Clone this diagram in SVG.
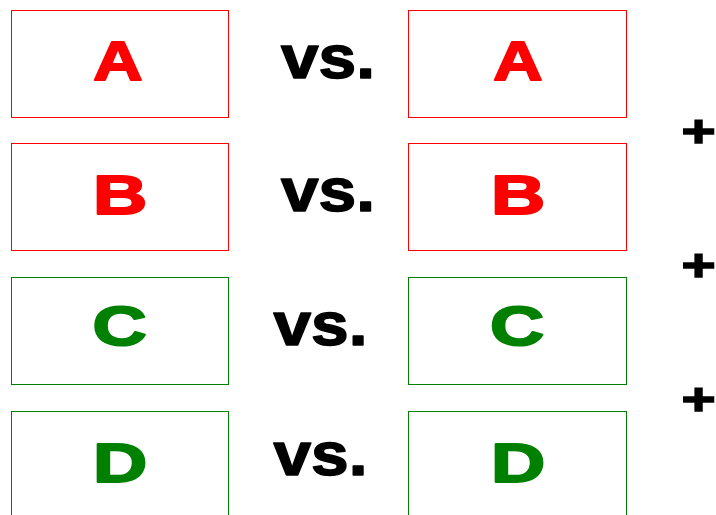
<svg xmlns="http://www.w3.org/2000/svg" width="716" height="515" viewBox="0 0 716 515">
<style>
.box{fill:#fff;stroke-width:1}
.r{stroke:#ff0000}
.g{stroke:#008000}
.lt{font-family:"Liberation Sans",Arial,sans-serif;font-weight:bold;font-size:56px;text-anchor:middle;stroke-width:2;stroke-linejoin:round}
.rt{fill:#ff0000;stroke:#ff0000}
.gt{fill:#008000;stroke:#008000}
.vs{font-family:"Liberation Sans",Arial,sans-serif;font-weight:bold;font-size:61px;fill:#000;stroke:#000;stroke-width:1.5;stroke-linejoin:round}
.pl{font-family:"Liberation Sans",Arial,sans-serif;font-weight:bold;font-size:45px;fill:#000;stroke:#000;stroke-width:1.5;text-anchor:middle}
</style>
<rect width="716" height="515" fill="#fff"/>
<g id="row1">
<g id="A1"><rect class="box r" x="11.5" y="10.5" width="217" height="107"/><text class="lt rt" transform="translate(118,80) scale(1.22,1)">A</text></g>
<text class="vs" x="281" y="77.5" textLength="94" lengthAdjust="spacingAndGlyphs">vs.</text>
<g id="A2"><rect class="box r" x="408.5" y="10.5" width="218" height="107"/><text class="lt rt" transform="translate(518,80) scale(1.22,1)">A</text></g>
</g>
<g id="row2">
<g id="B1"><rect class="box r" x="11.5" y="143.5" width="217" height="107"/><text class="lt rt" transform="translate(120,214) scale(1.34,1)">B</text></g>
<text class="vs" x="281" y="211" textLength="94" lengthAdjust="spacingAndGlyphs">vs.</text>
<g id="B2"><rect class="box r" x="408.5" y="143.5" width="218" height="107"/><text class="lt rt" transform="translate(518,214) scale(1.34,1)">B</text></g>
</g>
<g id="row3">
<g id="C1"><rect class="box g" x="11.5" y="277.5" width="217" height="107"/><text class="lt gt" transform="translate(119.5,345) scale(1.34,1)">C</text></g>
<text class="vs" x="273.5" y="344.5" textLength="94" lengthAdjust="spacingAndGlyphs">vs.</text>
<g id="C2"><rect class="box g" x="408.5" y="277.5" width="218" height="107"/><text class="lt gt" transform="translate(517,345) scale(1.34,1)">C</text></g>
</g>
<g id="row4">
<g id="D1"><rect class="box g" x="11.5" y="411.5" width="217" height="107"/><text class="lt gt" transform="translate(120,481.5) scale(1.34,1)">D</text></g>
<text class="vs" x="273.5" y="474.5" textLength="94" lengthAdjust="spacingAndGlyphs">vs.</text>
<g id="D2"><rect class="box g" x="408.5" y="411.5" width="218" height="107"/><text class="lt gt" transform="translate(518,481.5) scale(1.34,1)">D</text></g>
</g>
<g id="plus">
<text class="pl" transform="translate(698.5,147) scale(1.3,1)">+</text>
<text class="pl" transform="translate(698.5,281) scale(1.3,1)">+</text>
<text class="pl" transform="translate(698.5,414.5) scale(1.3,1)">+</text>
</g>
<g id="connectors"/>
</svg>
